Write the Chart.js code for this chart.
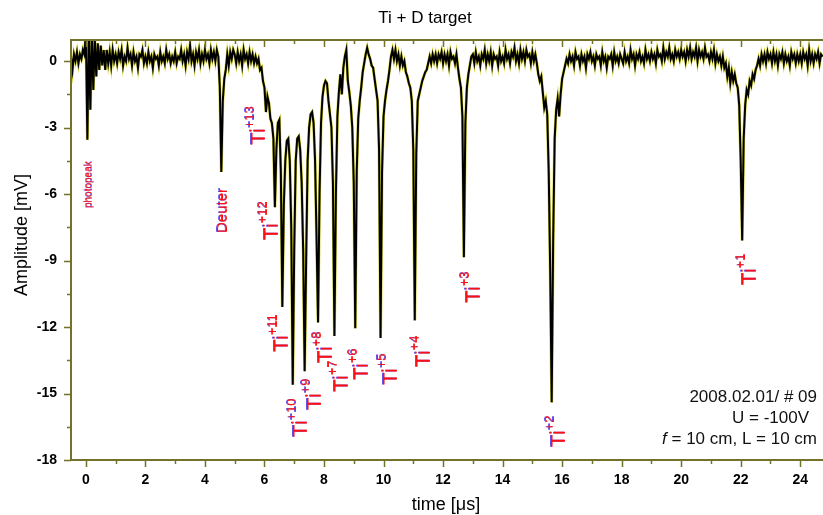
<!DOCTYPE html>
<html>
<head>
<meta charset="utf-8">
<script src="https://cdn.jsdelivr.net/npm/chart.js@4/dist/chart.umd.min.js"></script>
<style>
  html, body { margin: 0; padding: 0; background: #fff; overflow: hidden; }
  #wrap { width: 840px; height: 515px; }
</style>
</head>
<body>
<div id="wrap"><canvas id="c" width="840" height="515"></canvas></div>
<script>
// scope trace, sampled every 0.05 us starting at -0.5 us
const tStart = -0.5;
const tStep = 0.05;
const amplitude = [
  0.2, -0.4, 0.3, 0.0, 0.4, -0.1, 0.3, 0.1, 0.5, 0.3,
  // t = 0
  1.3, -3.55, 1.3, -2.2, 1.3, -1.3, 1.0, -0.7, 0.8, -0.4, 0.7, -0.2, 0.5, -0.4, 0.5, -0.1, 0.4, -0.2, 0.5, 0.0,
  // t = 1
  0.3, -0.1, 0.4, 0.1, 0.5, -0.2, 0.2, 0.0, 0.6, 0.1, 0.3, -0.2, 0.4, 0.0, 0.2, -0.3, 0.3, 0.2, 0.5, -0.1,
  // t = 2
  0.2, -0.1, 0.4, 0.0, 0.2, -0.3, 0.3, 0.1, 0.2, -0.2, 0.4, 0.0, 0.2, -0.1, 0.5, 0.1, 0.3, -0.1, 0.2, 0.0,
  // t = 3
  0.4, -0.1, 0.2, 0.1, 0.5, 0.0, 0.3, -0.2, 0.4, 0.1, 0.7, 0.0, 0.3, -0.2, 0.4, 0.1, 0.5, -0.1, 0.3, 0.0,
  // t = 4 (Deuter)
  0.5, 0.1, 0.3, -0.1, 0.5, 0.1, 0.4, 0.0, 0.5, 0.2, -1.2, -5.0, -1.8, -0.8, -0.4, 0.3, -0.2, 0.4, 0.1, 0.5,
  // t = 5
  0.3, -0.1, 0.4, 0.0, 0.3, -0.2, 0.5, 0.1, 0.3, -0.1, 0.4, 0.0, 0.3, -0.1, 0.2, -0.1, 0.1, -0.4, -0.3, -0.9,
  // t = 6
  -1.2, -2.3, -1.6, -1.9, -2.6, -2.8, -3.5, -6.6, -4.0, -2.8, -2.65, -5.0, -11.1, -6.5, -4.5, -3.6, -3.5, -4.5, -7.5, -14.6,
  // t = 7
  -8.5, -4.5, -3.5, -3.4, -4.0, -5.5, -8.5, -14.0, -9.0, -4.5, -3.0, -2.4, -2.3, -2.8, -4.5, -8.0, -11.8, -6.0, -2.8, -1.6,
  // t = 8
  -1.1, -0.9, -1.0, -1.8, -2.4, -3.0, -5.5, -12.4, -6.0, -2.5, -1.4, -0.6, -1.5, -0.3, 0.2, 0.5, -0.9, -1.4, -2.0, -3.0,
  // t = 9
  -5.5, -12.05, -5.0, -2.6, -1.8, -1.2, -0.5, -0.1, 0.3, 0.6, 0.3, 0.1, -0.2, -0.3, -0.8, -1.3, -1.8, -4.0, -12.5, -5.0,
  // t = 10
  -2.5, -1.8, -1.3, -0.9, -0.4, 0.2, 0.5, 0.1, 0.5, 0.0, 0.3, -0.2, 0.2, -0.2, 0.0, -0.5, -0.7, -1.0, -1.2, -1.8,
  // t = 11
  -4.0, -11.7, -4.2, -1.8, -1.5, -1.2, -0.9, -0.7, -0.5, -0.4, -0.1, 0.2, -0.1, 0.3, 0.0, 0.3, -0.1, 0.3, 0.1, 0.4,
  // t = 12
  -0.1, 0.3, 0.0, 0.3, -0.2, 0.4, 0.1, 0.2, -0.1, 0.3, -0.3, -0.8, -1.2, -2.5, -8.85, -2.8, -1.2, -0.6, -0.2, 0.2,
  // t = 13
  0.3, -0.1, 0.4, 0.0, 0.2, -0.2, 0.3, 0.1, 0.5, -0.1, 0.3, 0.0, 0.4, -0.2, 0.3, 0.1, 0.2, -0.2, 0.4, 0.0,
  // t = 14
  0.2, -0.1, 0.5, 0.1, 0.3, -0.1, 0.4, 0.2, 0.6, 0.0, 0.3, -0.1, 0.5, 0.1, 0.4, 0.0, 0.5, 0.2, 0.3, -0.1,
  // t = 15
  0.4, 0.0, 0.3, -0.1, -0.6, -0.9, -0.7, -1.4, -2.1, -1.8, -2.4, -5.0, -9.5, -15.4, -8.0, -3.5, -2.2, -1.7, -2.5, -1.5,
  // t = 16
  -0.8, -0.5, -0.2, 0.1, -0.1, 0.3, 0.0, 0.2, -0.2, 0.4, 0.1, 0.2, -0.2, 0.3, 0.0, 0.2, -0.3, 0.3, 0.1, 0.4,
  // t = 17
  0.0, 0.2, -0.2, 0.3, 0.1, 0.2, -0.2, 0.4, 0.0, 0.2, -0.3, 0.2, 0.1, 0.3, -0.2, 0.4, 0.0, 0.2, -0.1, 0.3,
  // t = 18
  0.1, -0.1, 0.4, 0.0, 0.2, -0.1, 0.5, 0.1, 0.3, -0.2, 0.3, 0.1, 0.4, 0.0, 0.2, -0.1, 0.5, 0.1, 0.3, 0.0,
  // t = 19
  0.4, 0.1, 0.3, -0.1, 0.5, 0.2, 0.3, 0.0, 0.6, 0.1, 0.4, 0.2, 0.6, 0.1, 0.3, 0.0, 0.5, 0.2, 0.4, 0.1,
  // t = 20
  0.5, 0.2, 0.4, 0.0, 0.5, 0.2, 0.6, 0.1, 0.4, 0.2, 0.6, 0.0, 0.5, 0.2, 0.4, 0.1, 0.6, 0.2, 0.3, 0.0,
  // t = 21
  0.4, 0.1, 0.5, -0.1, 0.3, 0.0, 0.2, -0.2, 0.2, -0.3, -0.1, -0.7, -0.3, -1.0, -0.5, -0.9, -0.6, -1.0, -1.2, -2.0,
  // t = 22
  -4.5, -8.1, -3.5, -2.0, -1.3, -1.5, -0.9, -1.1, -0.6, -0.8, -0.4, -0.2, 0.1, -0.2, 0.3, 0.0, 0.3, -0.1, 0.4, 0.1,
  // t = 23
  0.3, -0.1, 0.4, 0.0, 0.3, -0.2, 0.3, 0.1, 0.4, -0.1, 0.3, 0.0, 0.2, -0.2, 0.4, 0.1, 0.3, -0.1, 0.3, 0.0,
  // t = 24
  0.3, -0.1, 0.4, 0.1, 0.3, -0.2, 0.5, 0.0, 0.3, -0.1, 0.3, 0.1, 0.4, -0.1, 0.3, 0.2
];

const xMajorTicks = [0, 2, 4, 6, 8, 10, 12, 14, 16, 18, 20, 22, 24];
const xMinorTicks = [1, 3, 5, 7, 9, 11, 13, 15, 17, 19, 21, 23, 25];
const yMajorTicks = [-18, -15, -12, -9, -6, -3, 0];
const yMinorTicks = [-16.5, -13.5, -10.5, -7.5, -4.5, -1.5];

// peak labels: [main, superscript, t (us), amplitude (mV)] anchor = baseline / lower end
const peakLabels = [
  ['Ti', '+13', 6.02, -3.79],
  ['Ti', '+12', 6.45, -8.08],
  ['Ti', '+11', 6.79, -13.13],
  ['Ti', '+10', 7.43, -16.97],
  ['Ti', '+9', 7.90, -15.75],
  ['Ti', '+8', 8.27, -13.63],
  ['Ti', '+7', 8.81, -14.93],
  ['Ti', '+6', 9.48, -14.39],
  ['Ti', '+5', 10.45, -14.62],
  ['Ti', '+4', 11.56, -13.81],
  ['Ti', '+3', 13.24, -10.92],
  ['Ti', '+2', 16.10, -17.42],
  ['Ti', '+1', 22.52, -10.11]
];
const otherLabels = [
  ['photopeak', 0.20, -6.63, 10],
  ['Deuter', 4.74, -7.76, 15]
];
const infoLines = ['2008.02.01/ # 09', 'U = -100V', '= 10 cm, L = 10 cm'];

const points = amplitude.map((v, i) => ({ x: +(tStart + i * tStep).toFixed(2), y: v }));

const FONT = "'Liberation Sans', Arial, sans-serif";
const AXIS = '#74722a';

function rotText(ctx, x, y, parts) {
  ctx.save();
  ctx.translate(x, y);
  ctx.rotate(-Math.PI / 2);
  ctx.textAlign = 'left';
  ctx.textBaseline = 'alphabetic';
  let pos = 0;
  parts.forEach(p => {
    ctx.font = p.size + 'px ' + FONT;
    ctx.fillStyle = 'rgba(90,60,230,0.9)';
    ctx.fillText(p.text, pos, -p.rise - 1);
    ctx.fillStyle = '#ff1010';
    ctx.fillText(p.text, pos, -p.rise);
    pos += ctx.measureText(p.text).width;
  });
  ctx.restore();
}

const framePlugin = {
  id: 'frame',
  afterDraw(chart) {
    const ctx = chart.ctx;
    const a = chart.chartArea;
    const xs = chart.scales.x, ys = chart.scales.y;
    ctx.save();
    ctx.strokeStyle = AXIS;
    ctx.lineWidth = 2;
    ctx.beginPath();
    ctx.rect(a.left, a.top, a.right - a.left, a.bottom - a.top);
    ctx.stroke();
    ctx.lineWidth = 1.5;
    const tick = (vals, len) => {
      vals.forEach(v => {
        const px = Math.round(xs.getPixelForValue(v)) + 0.5;
        if (px < a.left || px > a.right) return;
        ctx.beginPath();
        ctx.moveTo(px, a.bottom); ctx.lineTo(px, a.bottom + len);
        ctx.moveTo(px, a.top); ctx.lineTo(px, a.top + len);
        ctx.stroke();
      });
    };
    const ytick = (vals, len) => {
      vals.forEach(v => {
        const py = Math.round(ys.getPixelForValue(v)) + 0.5;
        ctx.beginPath();
        ctx.moveTo(a.left, py); ctx.lineTo(a.left - len, py);
        ctx.moveTo(a.right, py); ctx.lineTo(a.right - len, py);
        ctx.stroke();
      });
    };
    tick(xMajorTicks, 7); tick(xMinorTicks, 4);
    ytick(yMajorTicks, 7); ytick(yMinorTicks, 4);

    // titles
    ctx.fillStyle = '#000';
    ctx.textAlign = 'center';
    ctx.textBaseline = 'middle';
    ctx.font = '17px ' + FONT;
    ctx.fillText('Ti + D target', 425, 18);
    ctx.font = '18px ' + FONT;
    ctx.fillText('time [\u03bcs]', 446, 505);
    ctx.save();
    ctx.translate(22, 235);
    ctx.rotate(-Math.PI / 2);
    ctx.fillText('Amplitude [mV]', 0, 0);
    ctx.restore();

    // peak labels
    peakLabels.forEach(l => {
      rotText(ctx, xs.getPixelForValue(l[2]), ys.getPixelForValue(l[3]),
        [{ text: l[0], size: 21, rise: 0 }, { text: l[1], size: 13, rise: 11 }]);
    });
    otherLabels.forEach(l => {
      rotText(ctx, xs.getPixelForValue(l[1]), ys.getPixelForValue(l[2]),
        [{ text: l[0], size: l[3], rise: 0 }]);
    });

    // info block
    ctx.fillStyle = '#111';
    ctx.textAlign = 'right';
    ctx.textBaseline = 'middle';
    ctx.font = '17px ' + FONT;
    ctx.fillText(infoLines[0], 817, 397);
    ctx.fillText(infoLines[1], 809, 418);
    const restW = ctx.measureText(' ' + infoLines[2]).width;
    ctx.fillText(' ' + infoLines[2], 817, 439);
    ctx.font = 'italic 17px ' + FONT;
    ctx.fillText('f', 817 - restW, 439);
    ctx.restore();
  }
};

new Chart(document.getElementById('c'), {
  type: 'line',
  data: {
    datasets: [
      // dataset 0 is painted last, so the black trace sits on the yellow edge
      { data: points, borderColor: '#000000', borderWidth: 2, pointRadius: 0, tension: 0 },
      { data: points, borderColor: '#d6d43a', borderWidth: 3, pointRadius: 0, tension: 0 }
    ]
  },
  options: {
    responsive: false,
    devicePixelRatio: 1,
    animation: false,
    events: [],
    layout: { padding: { left: 0, top: 40, right: 10, bottom: 0 } },
    plugins: { legend: { display: false }, tooltip: { enabled: false }, title: { display: false } },
    scales: {
      x: {
        type: 'linear',
        min: -0.5,
        max: 25,
        afterFit: s => { s.height = 55; },
        afterBuildTicks: s => { s.ticks = xMajorTicks.map(v => ({ value: v })); },
        grid: { display: false, drawTicks: false, tickLength: 0 },
        border: { display: false },
        ticks: { padding: 12, color: '#000', font: { family: FONT, size: 14, weight: 'bold' }, maxRotation: 0 }
      },
      y: {
        type: 'linear',
        min: -18,
        max: 0.95,
        afterFit: s => { s.width = 71; },
        afterBuildTicks: s => { s.ticks = yMajorTicks.map(v => ({ value: v })); },
        grid: { display: false, drawTicks: false, tickLength: 0 },
        border: { display: false },
        ticks: { padding: 14, color: '#000', font: { family: FONT, size: 14, weight: 'bold' } }
      }
    }
  },
  plugins: [framePlugin]
});
</script>
</body>
</html>
